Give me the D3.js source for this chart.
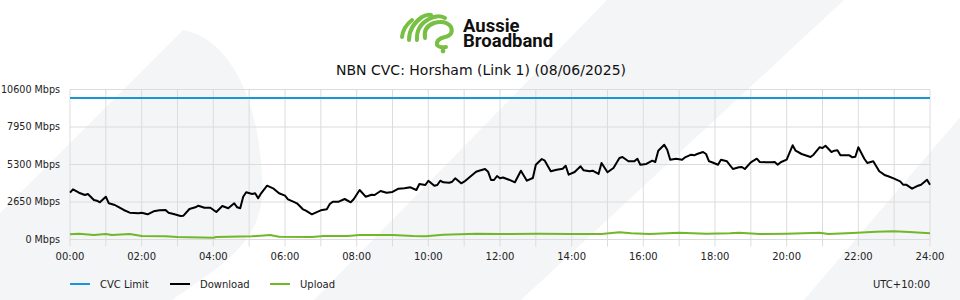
<!DOCTYPE html>
<html>
<head>
<meta charset="utf-8">
<script src="https://cdn.jsdelivr.net/npm/d3@7"></script>
<style>
  html, body { margin: 0; padding: 0; background: #fff; }
  svg { display: block; font-family: "DejaVu Sans", sans-serif; }
</style>
</head>
<body>
<svg id="chart" width="960" height="300"></svg>
<script>
// chart data
var title = "NBN CVC: Horsham (Link 1) (08/06/2025)";
var yTicks = [0, 2650, 5300, 7950, 10600];
var xTickLabels = ["00:00", "02:00", "04:00", "06:00", "08:00", "10:00", "12:00",
    "14:00", "16:00", "18:00", "20:00", "22:00", "24:00"];
var seriesNames = ["CVC Limit", "Download", "Upload"];
var seriesColors = ["#1a96d4", "#000000", "#72b62a"];
var cvcLimit = 10000;

var downTimes = ["00:00", "00:05", "00:15", "00:25", "00:30", "00:40", "00:45", "00:50", "01:00", "01:05",
    "01:15", "01:20", "01:30", "01:40", "01:55", "02:00", "02:10", "02:20", "02:30", "02:40",
    "02:45", "02:55", "03:05", "03:10", "03:20", "03:30", "03:35", "03:45", "03:55", "04:05",
    "04:15", "04:25", "04:35", "04:40", "04:45", "04:50", "04:55", "05:05", "05:10", "05:15",
    "05:20", "05:30", "05:40", "05:50", "06:00", "06:05", "06:10", "06:20", "06:30", "06:35",
    "06:45", "06:55", "07:00", "07:10", "07:15", "07:20", "07:30", "07:40", "07:50", "07:55",
    "08:05", "08:15", "08:25", "08:30", "08:40", "08:50", "09:00", "09:10", "09:20", "09:30",
    "09:40", "09:45", "09:55", "10:00", "10:10", "10:15", "10:20", "10:25", "10:35", "10:40",
    "10:45", "10:55", "11:00", "11:10", "11:20", "11:25", "11:35", "11:40", "11:45", "11:50",
    "11:55", "12:00", "12:05", "12:15", "12:25", "12:35", "12:45", "12:55", "13:00", "13:10",
    "13:15", "13:25", "13:35", "13:45", "13:50", "13:55", "14:05", "14:15", "14:20", "14:30",
    "14:35", "14:45", "14:50", "15:00", "15:10", "15:20", "15:25", "15:35", "15:45", "15:50",
    "15:55", "16:05", "16:15", "16:20", "16:25", "16:35", "16:40", "16:45", "16:55", "17:05",
    "17:10", "17:20", "17:25", "17:30", "17:40", "17:45", "17:50", "17:55", "18:05", "18:10",
    "18:20", "18:30", "18:40", "18:45", "18:50", "19:00", "19:10", "19:15", "19:25", "19:35",
    "19:40", "19:45", "19:50", "20:00", "20:10", "20:15", "20:25", "20:40", "20:45", "20:55",
    "21:00", "21:05", "21:15", "21:20", "21:25", "21:30", "21:45", "21:50", "21:55", "22:00",
    "22:10", "22:15", "22:25", "22:35", "22:45", "22:50", "23:00", "23:10", "23:15", "23:20",
    "23:30", "23:40", "23:45", "23:55", "24:00"];
var downValues = [3307, 3547, 3307, 3145, 3215, 2791, 2742, 2629, 3025, 2558,
    2438, 2318, 2085, 1894, 1851, 1894, 1781, 1993, 2064, 2085,
    1894, 1781, 1661, 1682, 2155, 2276, 2389, 2247, 2247, 1943,
    2367, 2205, 2558, 2276, 2205, 3025, 3336, 3215, 3265, 2912,
    3265, 3802, 3618, 3265, 3100, 2841, 2742, 2558, 2134, 2035,
    1781, 1965, 2064, 2134, 2509, 2671, 2671, 2862, 2629, 2841,
    3498, 3025, 3166, 3145, 3427, 3307, 3357, 3590, 3618, 3689,
    3498, 3922, 3851, 4155, 3802, 3851, 4155, 4042, 4014, 4085,
    4325, 3972, 4085, 4438, 4791, 4862, 4982, 4791, 4205, 4205,
    4487, 4325, 4380, 4226, 4042, 4862, 4155, 4346, 5286, 5689,
    5569, 4820, 4933, 5003, 5215, 4579, 4770, 5173, 4890, 4820,
    4862, 4629, 5406, 4749, 5053, 5760, 5830, 5526, 5526, 5710,
    5286, 5336, 5569, 5477, 6275, 6699, 6346, 5639, 5710, 5639,
    5809, 5993, 5950, 6042, 6184, 6042, 5526, 5456, 5286, 5639,
    5526, 4982, 5102, 5124, 4982, 5456, 5710, 5477, 5456, 5456,
    5477, 5286, 5456, 5639, 6657, 6275, 6042, 5830, 5993, 6516,
    6466, 6629, 6184, 6275, 6304, 5950, 5950, 5809, 5850, 6516,
    5710, 5406, 5526, 4820, 4537, 4466, 4297, 4113, 3873, 3873,
    3590, 3802, 3873, 4226, 3873];

var upTimes = ["00:00", "00:15", "00:40", "01:00", "01:10", "01:40", "02:00", "02:40", "03:00", "04:00",
    "04:05", "05:05", "05:35", "05:50", "06:45", "07:05", "07:45", "08:05", "09:00", "09:35",
    "09:55", "10:25", "11:20", "12:00", "12:15", "13:05", "14:00", "14:50", "15:20", "15:40",
    "16:10", "17:00", "17:45", "18:25", "18:40", "19:15", "20:00", "20:55", "21:10", "21:50",
    "22:30", "23:00", "23:25", "24:00"];
var upValues = [367, 410, 318, 389, 318, 389, 247, 226, 177, 127,
    177, 226, 318, 200, 177, 247, 240, 318, 318, 247,
    226, 341, 410, 389, 389, 410, 389, 389, 509, 436,
    380, 480, 410, 436, 480, 389, 410, 480, 389, 459,
    551, 580, 530, 436];

function toMinutes(t) {
    var p = t.split(":");
    return +p[0] * 60 + +p[1];
}

var svg = d3.select("#chart");
var plotLeft = 70, plotRight = 930, plotTop = 89.5, plotBottom = 239.5;

// faint background watermark
var bg = svg.append("g").attr("fill", "#f4f5f7");
bg.append("path").attr("d", "M0,213 L183,30 C238,40 264,120 262,195 C260,245 215,270 172,300 L0,300 Z");
bg.append("path").attr("d", "M607,0 L844,0 L521,300 L314,300 Z");
bg.append("path").attr("d", "M1060,0 L1200,0 L1200,300 L804,300 Z");

// logo
var logo = svg.append("g");
var green = "#78c043";
var strokes = [
    "M402,37 Q403,27 412,20",
    "M409,40 Q409,26 422,17 Q427,14 431,15",
    "M417,40 Q416,26 429,19 Q438,14 445,18",
    "M425,38 Q423,27 434,23 Q446,20 451,27 Q454,35 445,37 Q436,39 437,45 Q439,48 446,47"
];
logo.selectAll("path").data(strokes).join("path")
    .attr("d", function (d) { return d; })
    .attr("fill", "none")
    .attr("stroke", green)
    .attr("stroke-width", 4)
    .attr("stroke-linecap", "round")
    .attr("stroke-linejoin", "round");
logo.append("circle").attr("cx", 443).attr("cy", 51).attr("r", 2.4).attr("fill", green);
logo.append("text").attr("x", 463).attr("y", 31.5).text("Aussie")
    .attr("font-family", "Roboto").attr("font-weight", 700).attr("font-size", 18.5).attr("fill", "#111");
logo.append("text").attr("x", 463).attr("y", 47).text("Broadband")
    .attr("font-family", "Roboto").attr("font-weight", 700).attr("font-size", 18.5).attr("fill", "#111");

// title
svg.append("text")
    .attr("x", 481).attr("y", 75)
    .attr("text-anchor", "middle")
    .attr("font-size", 14)
    .attr("fill", "#111")
    .text(title);

var x = d3.scaleLinear().domain([0, 24 * 60]).range([plotLeft, plotRight]);
var y = d3.scaleLinear().domain([0, 10600]).range([plotBottom, plotTop]);

// grid
var hours = d3.range(0, 25);
svg.append("g").selectAll("line").data(hours).join("line")
    .attr("x1", function (h) { return x(h * 60); })
    .attr("x2", function (h) { return x(h * 60); })
    .attr("y1", plotTop)
    .attr("y2", plotBottom + 7)
    .attr("stroke", "#dcdcdc")
    .attr("stroke-width", 1);
svg.append("g").selectAll("line").data(yTicks).join("line")
    .attr("x1", plotLeft)
    .attr("x2", plotRight)
    .attr("y1", function (v) { return y(v); })
    .attr("y2", function (v) { return y(v); })
    .attr("stroke", "#dcdcdc")
    .attr("stroke-width", 1);

// axis labels
svg.append("g").selectAll("text").data(yTicks).join("text")
    .attr("x", plotLeft - 10)
    .attr("y", function (v) { return y(v); })
    .attr("dy", "0.35em")
    .attr("text-anchor", "end")
    .attr("font-size", 9.6)
    .attr("fill", "#222")
    .text(function (v) { return v + " Mbps"; });
svg.append("g").selectAll("text").data(xTickLabels).join("text")
    .attr("x", function (t) { return x(toMinutes(t)); })
    .attr("y", plotBottom + 20)
    .attr("text-anchor", "middle")
    .attr("font-size", 10)
    .attr("fill", "#222")
    .text(function (t) { return t; });

// series
var line = d3.line()
    .x(function (d) { return x(d[0]); })
    .y(function (d) { return y(d[1]); });

svg.append("path")
    .datum([[0, cvcLimit], [24 * 60, cvcLimit]])
    .attr("d", line)
    .attr("fill", "none")
    .attr("stroke", seriesColors[0])
    .attr("stroke-width", 2);

svg.append("path")
    .datum(upTimes.map(function (t, i) { return [toMinutes(t), upValues[i]]; }))
    .attr("d", line)
    .attr("fill", "none")
    .attr("stroke", seriesColors[2])
    .attr("stroke-width", 2)
    .attr("stroke-linejoin", "round");

svg.append("path")
    .datum(downTimes.map(function (t, i) { return [toMinutes(t), downValues[i]]; }))
    .attr("d", line)
    .attr("fill", "none")
    .attr("stroke", seriesColors[1])
    .attr("stroke-width", 2)
    .attr("stroke-linejoin", "round");

// legend
var legend = svg.append("g").selectAll("g").data(seriesNames).join("g")
    .attr("transform", function (d, i) { return "translate(" + (70 + i * 100) + ",284)"; });
legend.append("line")
    .attr("x1", 0).attr("x2", 20)
    .attr("stroke", function (d, i) { return seriesColors[i]; })
    .attr("stroke-width", 2);
legend.append("text")
    .attr("x", 30).attr("dy", "0.35em")
    .attr("font-size", 10)
    .attr("fill", "#222")
    .text(function (d) { return d; });

svg.append("text")
    .attr("x", plotRight).attr("y", 284).attr("dy", "0.35em")
    .attr("text-anchor", "end")
    .attr("font-size", 10)
    .attr("fill", "#222")
    .text("UTC+10:00");
</script>
</body>
</html>
